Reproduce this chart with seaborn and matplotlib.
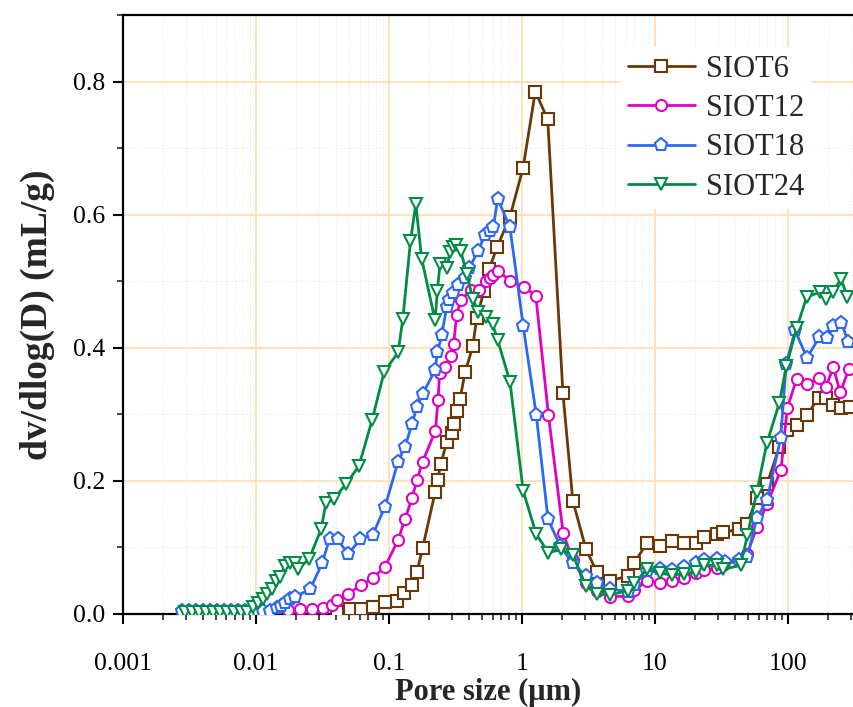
import numpy as np
import pandas as pd
import matplotlib
matplotlib.use("Agg")
import matplotlib.pyplot as plt
import seaborn as sns
from matplotlib.ticker import LogLocator, NullFormatter, MultipleLocator, FuncFormatter

sns.set_theme(style="ticks")
plt.rcParams['font.family'] = ['Liberation Serif', 'DejaVu Serif']

series_names = ["SIOT6", "SIOT12", "SIOT18", "SIOT24"]
series_colors = ["#6A3808", "#E000C4", "#2D68F0", "#008C46"]
series_markers = ["s", "o", "p", "v"]

siot6_x = [0.0406, 0.0509, 0.0616, 0.0754, 0.0933, 0.115, 0.130, 0.148, 0.162, 0.179,
           0.222, 0.232, 0.245, 0.272, 0.296, 0.308, 0.325, 0.342, 0.373, 0.426,
           0.456, 0.518, 0.568, 0.649, 0.812, 1.018, 1.259, 1.561, 2.03, 2.41,
           3.03, 3.66, 4.59, 6.27, 6.95, 8.71, 10.9, 13.4, 16.5, 20.3,
           23.4, 29.0, 32.3, 42.8, 49.2, 58.2, 69.5, 86.0, 98.6, 116,
           139, 170, 193, 219, 252, 290]
siot6_y = [0.003, 0.007, 0.007, 0.010, 0.018, 0.019, 0.031, 0.044, 0.063, 0.099,
           0.183, 0.202, 0.225, 0.259, 0.272, 0.285, 0.305, 0.323, 0.363, 0.402,
           0.444, 0.486, 0.519, 0.551, 0.597, 0.670, 0.785, 0.743, 0.332, 0.170,
           0.097, 0.063, 0.050, 0.057, 0.076, 0.107, 0.102, 0.109, 0.107, 0.107,
           0.115, 0.120, 0.123, 0.127, 0.135, 0.174, 0.195, 0.251, 0.276, 0.284,
           0.299, 0.325, 0.325, 0.314, 0.309, 0.311]

siot12_x = [0.0174, 0.0214, 0.0262, 0.0318, 0.0372, 0.0406, 0.0494, 0.0612, 0.0754, 0.0933,
            0.117, 0.132, 0.149, 0.162, 0.179, 0.223, 0.234, 0.240, 0.265, 0.292,
            0.306, 0.323, 0.348, 0.412, 0.474, 0.536, 0.571, 0.609, 0.663, 0.812,
            1.03, 1.27, 1.58, 2.04, 2.41, 3.03, 3.66, 4.6, 6.27, 7.0,
            8.7, 10.9, 13.4, 16.5, 20.3, 23.4, 29.0, 32.3, 42.8, 49.2,
            58.5, 69.5, 88.6, 98.6, 116, 139, 172, 193, 219, 247, 287]
siot12_y = [0.006, 0.007, 0.007, 0.009, 0.014, 0.021, 0.030, 0.043, 0.054, 0.071,
            0.111, 0.143, 0.174, 0.201, 0.229, 0.275, 0.322, 0.362, 0.371, 0.387,
            0.406, 0.450, 0.472, 0.487, 0.487, 0.500, 0.505, 0.509, 0.516, 0.500,
            0.492, 0.478, 0.299, 0.121, 0.081, 0.047, 0.034, 0.026, 0.027, 0.036,
            0.050, 0.047, 0.050, 0.054, 0.062, 0.066, 0.069, 0.073, 0.081, 0.090,
            0.131, 0.165, 0.217, 0.309, 0.353, 0.345, 0.355, 0.341, 0.371, 0.333, 0.368]

siot18_x = [0.00278, 0.00313, 0.00354, 0.00400, 0.00451, 0.00509, 0.00575, 0.00649, 0.00732, 0.00827,
            0.00933, 0.0104,
            0.0113, 0.0127, 0.0143, 0.0154, 0.0165, 0.0180, 0.0196, 0.0255, 0.0314, 0.0357,
            0.0410, 0.0494, 0.0610, 0.0754, 0.0933, 0.117, 0.132, 0.149, 0.162, 0.179,
            0.222, 0.231, 0.249, 0.272, 0.283, 0.301, 0.333, 0.373, 0.402, 0.469,
            0.527, 0.574, 0.609, 0.656, 0.812, 1.02, 1.28, 1.57, 1.94, 2.41,
            3.03, 3.66, 4.6, 6.27, 7.0, 8.7, 10.9, 13.4, 16.5, 20.3,
            23.4, 29.0, 33.6, 42.8, 49.5, 58.2, 69.5, 88, 97, 113,
            139, 172, 197, 219, 252, 284]
siot18_y = [0.004, 0.004, 0.004, 0.004, 0.004, 0.004, 0.004, 0.004, 0.004, 0.004,
            0.004, 0.004,
            0.005, 0.005, 0.009, 0.012, 0.016, 0.022, 0.026, 0.037, 0.076, 0.113,
            0.112, 0.090, 0.113, 0.119, 0.161, 0.229, 0.251, 0.286, 0.311, 0.331,
            0.366, 0.393, 0.419, 0.462, 0.472, 0.482, 0.494, 0.505, 0.520, 0.546,
            0.570, 0.576, 0.581, 0.624, 0.581, 0.433, 0.299, 0.142, 0.102, 0.076,
            0.057, 0.047, 0.038, 0.033, 0.044, 0.065, 0.067, 0.066, 0.071, 0.077,
            0.081, 0.082, 0.078, 0.081, 0.086, 0.144, 0.171, 0.264, 0.376, 0.426,
            0.385, 0.416, 0.415, 0.432, 0.437, 0.409]

siot24_x = [0.00292, 0.00330, 0.00373, 0.00421, 0.00475, 0.00536, 0.00606, 0.00684, 0.00772, 0.00856,
            0.0095, 0.0104, 0.0113, 0.0121, 0.0131, 0.0142, 0.0152, 0.0165, 0.0180, 0.0196,
            0.0207, 0.0251, 0.0308, 0.0336, 0.0386, 0.0473, 0.0593, 0.0745, 0.0920, 0.117,
            0.127, 0.145, 0.159, 0.176, 0.222, 0.231, 0.242, 0.272, 0.287, 0.304,
            0.318, 0.346, 0.384, 0.426, 0.469, 0.536, 0.602, 0.655, 0.812, 1.02,
            1.28, 1.58, 1.96, 2.41, 3.03, 3.66, 4.6, 6.27, 6.95, 8.7,
            10.9, 13.4, 16.5, 20.3, 23.4, 29.0, 32.3, 44, 49.5, 58.2,
            69.4, 86, 97, 116, 138, 175, 193, 219, 250, 280]
siot24_y = [0.003, 0.003, 0.003, 0.003, 0.003, 0.003, 0.003, 0.003, 0.003, 0.003,
            0.011, 0.016, 0.022, 0.030, 0.038, 0.049, 0.056, 0.072, 0.077, 0.076,
            0.067, 0.083, 0.127, 0.167, 0.173, 0.195, 0.222, 0.291, 0.364, 0.393,
            0.443, 0.560, 0.616, 0.534, 0.441, 0.486, 0.526, 0.520, 0.544, 0.551,
            0.554, 0.546, 0.511, 0.474, 0.454, 0.446, 0.435, 0.412, 0.349, 0.185,
            0.120, 0.092, 0.097, 0.089, 0.042, 0.030, 0.029, 0.035, 0.046, 0.067,
            0.061, 0.059, 0.060, 0.063, 0.073, 0.073, 0.067, 0.073, 0.118, 0.183,
            0.257, 0.317, 0.372, 0.429, 0.476, 0.484, 0.474, 0.484, 0.504, 0.476]

xs = [siot6_x, siot12_x, siot18_x, siot24_x]
ys = [siot6_y, siot12_y, siot18_y, siot24_y]
marker_sizes = {"s": 8, "o": 8, "p": 9.5, "v": 9}

W, H = 854, 707
fig = plt.figure(figsize=(W / 100, H / 100), dpi=100)
ax = fig.add_axes([123 / W, (H - 614) / H, 731 / W, 599 / H])
ax.set_facecolor("white")

for name, col, mk, x, y in zip(series_names, series_colors, series_markers, xs, ys):
    df = pd.DataFrame({"x": x, "y": y})
    sns.lineplot(data=df, x="x", y="y", ax=ax, color=col, marker=mk,
                 markersize=marker_sizes[mk], markeredgewidth=1.5,
                 markeredgecolor=col, markerfacecolor="white",
                 linewidth=2.0, estimator=None, sort=False, label=name, zorder=3)

ax.set_xscale("log")
ax.set_xlim(0.001, 313.4)
ax.set_ylim(0, 0.9)

ax.xaxis.set_major_locator(LogLocator(base=10, numticks=10))
ax.xaxis.set_minor_locator(LogLocator(base=10, subs=np.arange(2, 10), numticks=100))
ax.xaxis.set_minor_formatter(NullFormatter())
ax.xaxis.set_major_formatter(FuncFormatter(lambda v, p: ("%g" % v)))
ax.yaxis.set_major_locator(MultipleLocator(0.2))
ax.yaxis.set_minor_locator(MultipleLocator(0.1))
ax.yaxis.set_major_formatter(FuncFormatter(lambda v, p: "%.1f" % v))

ax.grid(True, which="major", color="#FFDDB0", linewidth=1.2, zorder=0)
ax.grid(True, which="minor", color="#EFEADA", linewidth=0.8, linestyle=":", zorder=0)
ax.set_axisbelow(True)

for s in ["left", "bottom", "top"]:
    ax.spines[s].set_visible(True)
    ax.spines[s].set_color("black")
    ax.spines[s].set_linewidth(1.6)
ax.spines["right"].set_visible(False)

ax.tick_params(axis="both", which="major", direction="out", length=7, width=1.5,
               labelsize=18.5, colors="black")
ax.tick_params(axis="both", which="minor", direction="out", length=4, width=1.2)
ax.tick_params(axis="x", which="major", pad=21)
ax.tick_params(axis="y", which="major", pad=6)
ax.tick_params(top=False, right=False, which="both")

ax.set_xlabel("Pore size (μm)", fontsize=22, fontweight="bold", labelpad=2)
ax.set_ylabel("dv/dlog(D) (mL/g)", fontsize=27, fontweight="bold", labelpad=13)

leg = ax.legend(loc="upper left", bbox_to_anchor=((620 - 123) / 731, (614 - 47) / 599),
                borderaxespad=0, fontsize=22, frameon=True, fancybox=False,
                framealpha=1, facecolor="white", edgecolor="none",
                handlelength=2.2, handletextpad=0.35, labelspacing=0.34, borderpad=0.25)

fig.savefig("out.png", dpi=100, facecolor="white")
